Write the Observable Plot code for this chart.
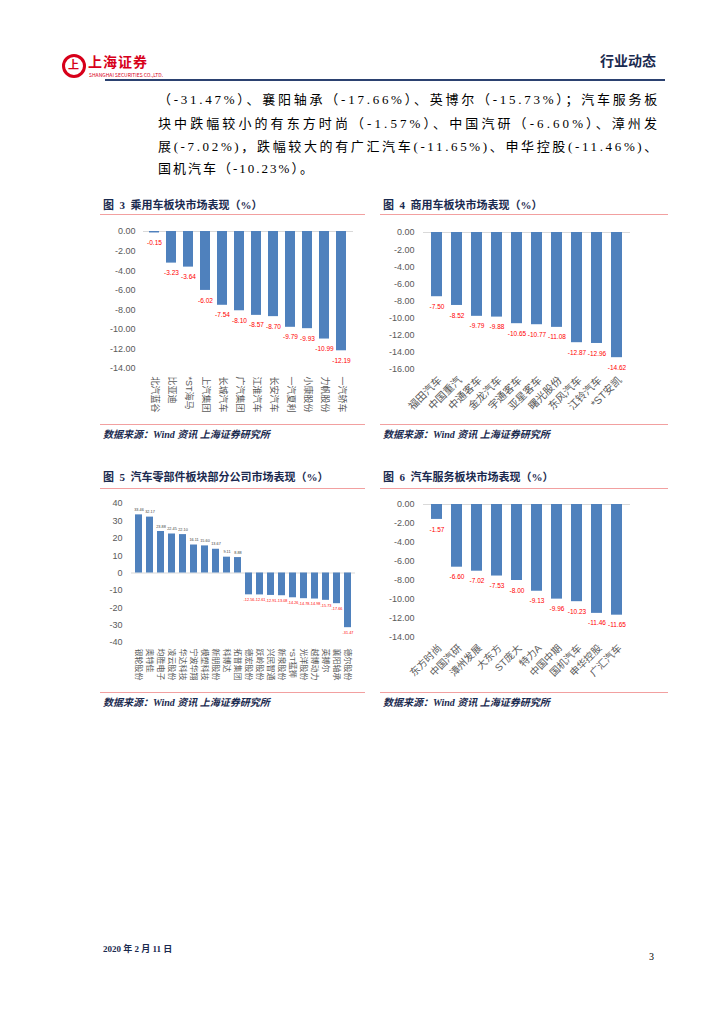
<!DOCTYPE html>
<html><head><meta charset="utf-8">
<script src="https://cdn.jsdelivr.net/npm/d3@7"></script>
<script src="https://cdn.jsdelivr.net/npm/@observablehq/plot@0.6"></script>
<style>
body{margin:0;background:#fff;}
#page{position:relative;width:724px;height:1024px;overflow:hidden;background:#fff;font-family:"Liberation Serif","Noto Sans CJK SC",serif;}
.abs{position:absolute;white-space:nowrap;}
.body{left:158px;font-size:13px;line-height:16px;color:#000;}
.title{font-family:"Liberation Serif","Noto Sans CJK SC",serif;font-weight:bold;font-size:11px;line-height:14px;color:#1a2a4f;}
.src{font-family:"Liberation Serif","Noto Sans CJK SC",serif;font-weight:bold;font-style:italic;font-size:10px;line-height:14px;color:#1a2a4f;}
.pink{height:0;border-top:1.5px solid #f2a0a0;}
.chart{position:absolute;}
</style></head>
<body><div id="page">
  <div class="abs" style="left:62px;top:54px;width:18px;height:18px;border:3px solid #d7001a;border-radius:50%;"></div>
  <div class="abs" style="left:68px;top:57px;font-size:11px;font-weight:bold;color:#d7001a;font-family:'Noto Sans CJK SC';line-height:14px;">上</div>
  <div class="abs" style="left:88px;top:53px;font-size:14px;font-weight:bold;color:#d7001a;font-family:'Noto Sans CJK SC';line-height:16px;letter-spacing:1px;">上海证券</div>
  <div class="abs" style="left:89px;top:72px;font-size:5px;color:#d7001a;font-family:'Noto Sans CJK SC';line-height:6px;">SHANGHAI SECURITIES CO.,LTD.</div>
  <div class="abs" style="right:68px;top:51px;font-size:14px;font-weight:bold;color:#1a2a4f;font-family:'Noto Sans CJK SC';line-height:18px;">行业动态</div>
  <div class="abs" style="left:105px;top:79px;width:560px;height:0;border-top:2px solid #2b4170;"></div>

  <div class="abs body fit" style="top:92px;">（-31.47%）、襄阳轴承（-17.66%）、英博尔（-15.73%）；汽车服务板</div>
  <div class="abs body fit" style="top:116px;">块中跌幅较小的有东方时尚（-1.57%）、中国汽研（-6.60%）、漳州发</div>
  <div class="abs body fit" style="top:139px;">展(-7.02%)，跌幅较大的有广汇汽车(-11.65%)、申华控股(-11.46%)、</div>
  <div class="abs body" style="top:161px;letter-spacing:2px;">国机汽车（-10.23%）。</div>

  <div class="abs title" style="left:103px;top:198px;">图&nbsp;&nbsp;3&nbsp;&nbsp;乘用车板块市场表现（%）</div>
  <div class="abs title" style="left:383px;top:198px;">图&nbsp;&nbsp;4&nbsp;&nbsp;商用车板块市场表现（%）</div>
  <div class="abs pink" style="left:100px;top:214px;width:265px;"></div>
  <div class="abs pink" style="left:380px;top:214px;width:288px;"></div>
  <div class="abs pink" style="left:100px;top:424px;width:265px;"></div>
  <div class="abs pink" style="left:380px;top:424px;width:288px;"></div>
  <div class="abs src" style="left:103px;top:428px;">数据来源：Wind 资讯 上海证券研究所</div>
  <div class="abs src" style="left:383px;top:428px;">数据来源：Wind 资讯 上海证券研究所</div>

  <div class="abs title" style="left:103px;top:470px;">图&nbsp;&nbsp;5&nbsp;&nbsp;汽车零部件板块部分公司市场表现（%）</div>
  <div class="abs title" style="left:383px;top:470px;">图&nbsp;&nbsp;6&nbsp;&nbsp;汽车服务板块市场表现（%）</div>
  <div class="abs pink" style="left:100px;top:488px;width:265px;"></div>
  <div class="abs pink" style="left:380px;top:488px;width:288px;"></div>
  <div class="abs pink" style="left:100px;top:692px;width:265px;"></div>
  <div class="abs pink" style="left:380px;top:692px;width:288px;"></div>
  <div class="abs src" style="left:103px;top:696px;">数据来源：Wind 资讯 上海证券研究所</div>
  <div class="abs src" style="left:383px;top:696px;">数据来源：Wind 资讯 上海证券研究所</div>

  <div id="c3" class="chart" style="left:100px;top:220px;"></div>
  <div id="c4" class="chart" style="left:380px;top:220px;"></div>
  <div id="c5" class="chart" style="left:100px;top:490px;"></div>
  <div id="c6" class="chart" style="left:380px;top:490px;"></div>

  <div class="abs" style="left:103px;top:943px;font-size:9px;font-weight:bold;line-height:12px;color:#1a2a4f;">2020 年 2 月 11 日</div>
  <div class="abs" style="left:649px;top:951px;font-size:10px;line-height:12px;color:#000;">3</div>
</div>
<script>
// 图3 乘用车板块
const cats3 = ["北汽蓝谷","比亚迪","*ST海马","上汽集团","长城汽车","广汽集团","江淮汽车","长安汽车","一汽夏利","小康股份","力帆股份","一汽轿车"];
const vals3 = [-0.15,-3.23,-3.64,-6.02,-7.54,-8.10,-8.57,-8.70,-9.79,-9.93,-10.99,-12.19];
const ticks3 = [0,-2,-4,-6,-8,-10,-12,-14];
// 图4 商用车板块
const cats4 = ["福田汽车","中国重汽","中通客车","金龙汽车","宇通客车","亚星客车","曙光股份","东风汽车","江铃汽车","*ST安凯"];
const vals4 = [-7.50,-8.52,-9.79,-9.88,-10.65,-10.77,-11.08,-12.87,-12.96,-14.62];
const ticks4 = [0,-2,-4,-6,-8,-10,-12,-14,-16];
// 图5 汽车零部件板块
const cats5 = ["银轮股份","奥特佳","均胜电子","凌云股份","华达科技","宁波华翔","模塑科技","新朋股份","科博达","拓普集团","德宏股份","跃岭股份","兴民智通","新泉股份","*ST猛狮","光洋股份","越博动力","英搏尔","襄阳轴承","德尔股份"];
const vals5 = [33.46,32.17,23.88,22.45,22.10,16.11,15.60,13.67,9.11,8.88,-12.56,-12.61,-12.91,-13.08,-14.26,-14.78,-14.98,-15.73,-17.66,-31.47];
const ticks5 = [40,30,20,10,0,-10,-20,-30,-40];
// 图6 汽车服务板块
const cats6 = ["东方时尚","中国汽研","漳州发展","大东方","ST庞大","特力A","中国中期","国机汽车","申华控股","广汇汽车"];
const vals6 = [-1.57,-6.60,-7.02,-7.53,-8.00,-9.13,-9.96,-10.23,-11.46,-11.65];
const ticks6 = [0,-2,-4,-6,-8,-10,-12,-14];

const f2 = v => v.toFixed(2);
const fi = v => String(v);

// fit body lines to the column width with even letter spacing
document.querySelectorAll(".fit").forEach(el => {
  const target = 502;
  const n = el.textContent.length;
  const w = el.getBoundingClientRect().width;
  el.style.letterSpacing = ((target - w) / n) + "px";
});

function makeChart(o) {
  const data = o.cats.map((c, i) => ({name: c, value: o.vals[i]}));
  const neg = data.filter(d => d.value < 0), pos = data.filter(d => d.value >= 0);
  return Plot.plot({
    width: o.width, height: o.height,
    marginTop: o.mt, marginBottom: o.mb, marginLeft: o.ml, marginRight: o.mr,
    style: {fontFamily: '"Liberation Sans","Noto Sans CJK SC",sans-serif', background: "transparent", overflow: "visible", color: "#595959"},
    x: {domain: o.cats, paddingInner: o.pi, paddingOuter: o.po},
    y: {domain: o.yDomain},
    marks: [
      Plot.ruleY([0], {stroke: "#d9d9d9", strokeWidth: 1}),
      Plot.barY(data, {x: "name", y: "value", fill: "#4f81bd"}),
      Plot.axisY({ticks: o.yTicks, tickFormat: o.yFmt, tickSize: 0, tickPadding: o.ytp, fontSize: o.yfs, fill: "#595959", label: null}),
      Plot.axisX({tickSize: 0, tickRotate: o.rot, textAnchor: o.anchor, lineAnchor: "middle", tickPadding: o.xtp, dx: o.xdx, fontSize: o.xfs, fill: "#595959", label: null}),
      Plot.text(neg, {x: "name", y: "value", text: d => o.lf(d.value), dy: o.ldy, fill: "#ff0000", fontSize: o.lfs}),
      Plot.text(pos, {x: "name", y: "value", text: d => o.lf(d.value), dy: -o.ldy, fill: "#404040", fontSize: o.lfs})
    ]
  });
}

document.getElementById("c3").append(makeChart({
  cats: cats3, vals: vals3, yDomain: [-14, 0], yTicks: ticks3, yFmt: f2, lf: f2,
  width: 265, height: 200, mt: 11, mb: 52, ml: 43, mr: 12, pi: 0.4, po: 0.2,
  ytp: 8, yfs: 9, rot: 90, anchor: "start", xtp: 8, xdx: 0, xfs: 9, ldy: 10, lfs: 6.5
}));
document.getElementById("c4").append(makeChart({
  cats: cats4, vals: vals4, yDomain: [-16, 0], yTicks: ticks4, yFmt: f2, lf: f2,
  width: 290, height: 200, mt: 12, mb: 51, ml: 43, mr: 40, pi: 0.45, po: 0.2,
  ytp: 9, yfs: 9, rot: -45, anchor: "end", xtp: 9, xdx: 3, xfs: 10.5, ldy: 10, lfs: 6.5
}));
document.getElementById("c5").append(makeChart({
  cats: cats5, vals: vals5, yDomain: [-40, 40], yTicks: ticks5, yFmt: fi, lf: f2,
  width: 265, height: 205, mt: 13, mb: 53, ml: 31, mr: 10, pi: 0.4, po: 0.2,
  ytp: 9, yfs: 9, rot: 90, anchor: "start", xtp: 6, xdx: 0, xfs: 8, ldy: 5, lfs: 3.8
}));
document.getElementById("c6").append(makeChart({
  cats: cats6, vals: vals6, yDomain: [-14, 0], yTicks: ticks6, yFmt: f2, lf: f2,
  width: 290, height: 200, mt: 14, mb: 53, ml: 43, mr: 40, pi: 0.45, po: 0.2,
  ytp: 9, yfs: 9, rot: -45, anchor: "end", xtp: 9, xdx: 3, xfs: 10, ldy: 10, lfs: 6.5
}));
</script>
</body></html>
